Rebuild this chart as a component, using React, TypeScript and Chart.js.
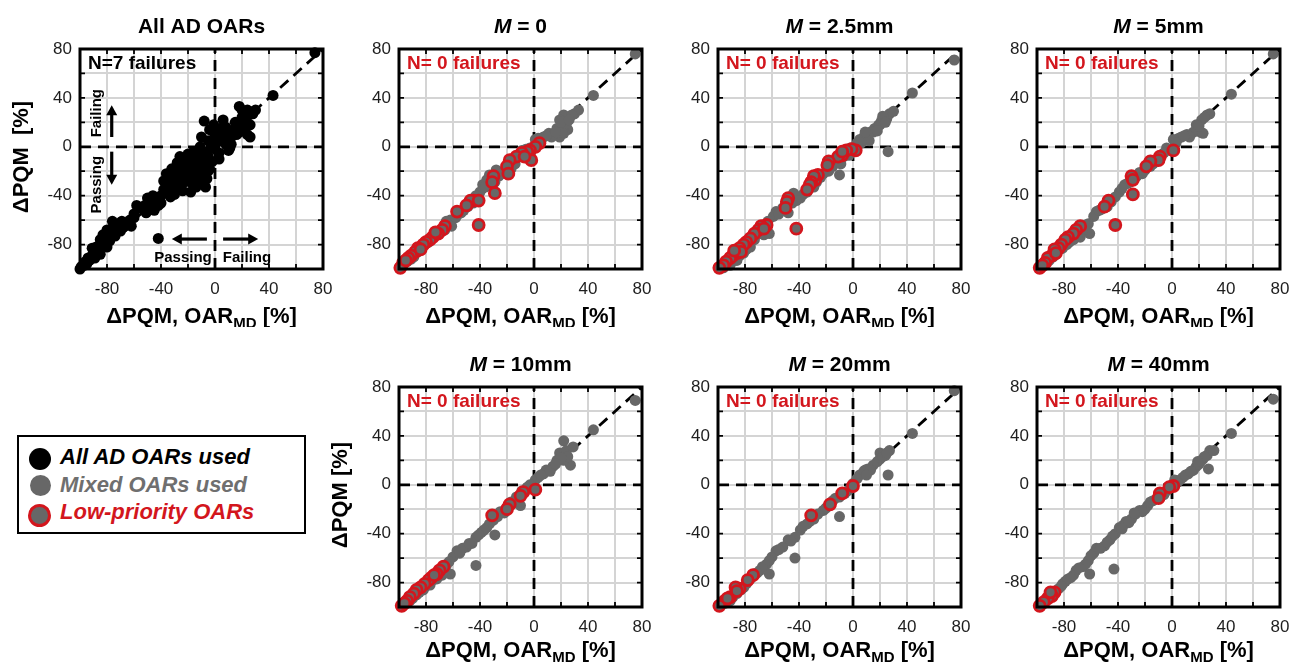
import React, { useEffect, useRef } from 'react';
import { Chart, registerables } from 'chart.js';

Chart.register(...registerables);

const FF = '"Liberation Sans", Arial, Helvetica, sans-serif';
Chart.defaults.font.family = FF;

type P = [number, number];

// ---------- data (x = ΔPQM OAR_MD, y = ΔPQM) ----------
const allAdPts: P[] = [
  [74, 77], [43, 42], [18, 33], [21, 29], [25, 26], [28, 27], [22, 22], [26, 18], [26, 8], [19, 16],
  [14, 14], [9, 11], [11, -1], [6, 5], [4, 15], [6, 22], [-1, 12], [-8, 21], [-10, 8], [-5, 5],
  [-2, 0], [-6, -4], [-11, 0], [-14, -8], [-16, -4], [-9, -11], [-18, -13], [-22, -16], [-26, -8], [-28, -13],
  [-32, -18], [-36, -22], [-31, -27], [-25, -23], [-21, -28], [-16, -24], [-11, -19], [-9, -24], [-7, -33], [-14, -33],
  [-18, -37], [-26, -33], [-33, -41], [-30, -39], [-38, -28], [-36, -33], [-43, -43], [-49, -45], [-47, -49], [-51, -54],
  [-42, -48], [-58, -48], [-42, -75], [-63, -60], [-67, -65], [-72, -64], [-75, -63], [-70, -69], [-74, -73], [-80, -68],
  [-83, -72], [-85, -76], [-88, -82], [-90, -87], [-91, -83], [-94, -91], [-96, -94], [-99, -98], [-85, -88], [-80, -82],
  [-30, -30], [-25, -18], [-20, -20], [-15, -15], [-10, -14], [-5, -8], [0, -2], [-3, 2], [2, 4], [-20, -6],
  [-34, -26], [-38, -35], [-12, -28], [-4, -18], [-6, -26], [-18, -29], [1, 10], [3, -5], [8, 2], [12, 8],
  [15, 20], [20, 24], [24, 30], [30, 30], [-24, -36], [-40, -40], [-45, -44], [-55, -50], [-60, -58], [-65, -62],
  [-68, -66], [-77, -70], [-82, -78], [-86, -84], [-88, -87], [-92, -90], [-95, -96], [-97, -97], [-100, -100], [-78, -77],
  [-70, -62], [-76, -61], [-69, -61], [-62, -65],
  [-35, -25], [-30, -20], [-28, -35], [-22, -10], [-18, -20], [-14, -25], [-10, -5], [-8, -15], [-5, -20], [-2, -12],
  [0, 5], [3, -10], [5, 12], [8, 16], [10, -3], [12, 2], [16, 10], [18, 12], [20, 15], [22, 14],
  [24, 10], [-45, -52], [-40, -46], [-52, -48], [-60, -55], [-73, -67], [-76, -70], [-79, -74], [-81, -80], [-84, -79],
  [-87, -86], [-93, -93], [-89, -91], [-46, -40], [-50, -42], [20, 30], [-4, 14], [-1, 18], [-24, -30], [-32, -34],
];

const m0Gray: P[] = [
  [75, 76], [44, 42], [22, 26], [19, 22], [23, 17], [25, 14], [30, 27], [33, 30], [22, 11], [19, 8],
  [14, 10], [11, 11], [7, 8], [3, 7], [1, 6], [21, 12], [24, 19], [28, 26], [17, 15], [-3, -1],
  [-9, -3], [-12, -8], [-14, -14], [-17, -18], [-28, -19], [-33, -23], [-35, -27], [-38, -31], [-29, -29], [-26, -24],
  [-45, -46], [-49, -49], [-52, -52], [-56, -55], [-62, -60], [-65, -61], [-66, -68], [-70, -71], [-75, -74], [-80, -79],
  [-84, -84], [-89, -90], [-94, -94], [-98, -98], [-61, -65], [-58, -58], [-40, -37], [-22, -20], [5, 3], [13, 8],
  [20, 20], [26, 22], [16, 12], [9, 9], [-6, -2], [-24, -22], [-31, -31], [-43, -40], [-54, -54], [-64, -64],
  [-72, -70], [-78, -78], [-86, -86], [-91, -92], [-36, -33], [-20, -17],
];
const m0Red: P[] = [
  [4, 3], [1, 0], [-3, -3], [-5, -4], [-9, -5], [-13, -8], [-2, -11], [-7, -8], [-18, -11], [-20, -16],
  [-19, -22], [-30, -24], [-31, -29], [-29, -38], [-45, -44], [-47, -44], [-50, -48], [-41, -44], [-57, -53], [-41, -64],
  [-66, -65], [-68, -68], [-71, -71], [-75, -74], [-77, -76], [-80, -78], [-82, -80], [-86, -83], [-88, -86], [-91, -89],
  [-93, -91], [-97, -95], [-99, -99], [-73, -70], [-84, -84], [-95, -93],
];

const m25Gray: P[] = [
  [75, 71], [44, 44], [27, 27], [25, 23], [21, 21], [19, 18], [16, 15], [13, 12], [10, 10], [8, 8],
  [5, 6], [3, 3], [26, -4], [20, 18], [30, 29], [-2, -1], [-5, -4], [-7, -8], [-10, -23], [-12, -11],
  [-15, -16], [-18, -20], [-27, -29], [-29, -33], [-34, -37], [-37, -39], [-39, -42], [-44, -38], [-48, -54], [-57, -53],
  [-59, -57], [-63, -61], [-62, -71], [-66, -72], [-69, -71], [-76, -82], [-81, -87], [-86, -93], [-91, -97], [-96, -99],
  [-99, -99], [-52, -50], [-45, -46], [-22, -22], [-3, -7], [12, 5], [15, 12], [22, 25],
  [24, 20], [18, 13], [9, 12], [6, 3], [-9, -14], [-24, -25], [-31, -31], [-42, -44], [-55, -55], [-65, -66],
  [-73, -76], [-79, -84], [-84, -89], [-88, -93],
];
const m25Red: P[] = [
  [2, -3], [-1, -2], [-5, -3], [-8, -7], [-11, -8], [-8, -4], [-18, -12], [-19, -15], [-26, -23], [-28, -27],
  [-29, -24], [-31, -29], [-32, -31], [-34, -35], [-48, -42], [-49, -45], [-50, -50], [-42, -67], [-64, -64], [-68, -65],
  [-70, -68], [-73, -71], [-76, -75], [-79, -78], [-81, -80], [-84, -83], [-86, -87], [-89, -89], [-91, -91], [-94, -94],
  [-96, -97], [-99, -99], [-66, -67], [-83, -86], [-88, -85],
];

const m5Gray: P[] = [
  [75, 76], [44, 43], [26, 26], [22, 22], [18, 18], [21, 12], [16, 12], [11, 10], [7, 8], [5, 7],
  [1, 6], [28, 27], [23, 11], [-4, -1], [-6, -5], [-9, -10], [-14, -14], [-16, -16], [-20, -19], [-26, -24],
  [-31, -29], [-35, -31], [-39, -37], [-42, -41], [-48, -49], [-56, -53], [-58, -57], [-62, -63], [-61, -71], [-66, -68],
  [-68, -74], [-73, -76], [-78, -80], [-83, -84], [-88, -90], [-93, -95], [-98, -99], [-45, -45], [-52, -51], [-22, -22],
  [13, 8], [3, 3], [-1, -3], [20, 17], [24, 24], [9, 9], [-12, -12], [-24, -21], [-28, -26], [-33, -30],
  [-37, -34], [-54, -52], [-64, -64], [-70, -72], [-76, -78], [-81, -83], [-86, -88], [-91, -93],
];
const m5Red: P[] = [
  [1, -3], [-9, -8], [-10, -11], [-16, -12], [-19, -16], [-30, -24], [-29, -27], [-29, -39], [-47, -44], [-50, -49],
  [-42, -64], [-68, -65], [-71, -68], [-73, -71], [-77, -74], [-79, -76], [-82, -80], [-84, -83], [-87, -84], [-89, -89],
  [-92, -91], [-94, -95], [-98, -99], [-86, -87], [-96, -97],
];

const m10Gray: P[] = [
  [75, 69], [44, 45], [22, 36], [27, 16], [19, 26], [24, 28], [29, 31], [17, 20], [14, 15], [9, 12],
  [7, 9], [3, 6], [1, 4], [12, 11], [22, 20], [-5, -2], [-9, -5], [-10, -17], [-13, -10], [-17, -14],
  [-20, -18], [-25, -22], [-30, -29], [-29, -41], [-35, -35], [-39, -39], [-43, -43], [-46, -48], [-50, -51], [-43, -66],
  [-57, -54], [-60, -59], [-63, -63], [-66, -66], [-62, -73], [-68, -74], [-72, -77], [-77, -82], [-82, -86], [-87, -90],
  [-92, -95], [-97, -99], [-53, -52], [-3, 0], [5, 8], [25, 23], [20, 22], [16, 17], [-7, -6], [-15, -15],
  [-22, -23], [-27, -26], [-33, -32], [-37, -37], [-41, -41], [-48, -48], [-55, -56], [-65, -66], [-70, -71], [-75, -78],
  [-80, -83], [-85, -88], [-90, -93],
];
const m10Red: P[] = [
  [1, -4], [-8, -6], [-10, -9], [-18, -16], [-20, -20], [-31, -25], [-67, -67], [-70, -70], [-72, -73], [-76, -76],
  [-78, -78], [-81, -81], [-84, -84], [-87, -86], [-89, -89], [-92, -92], [-94, -95], [-98, -99], [-96, -97], [-74, -74],
];

const m20Gray: P[] = [
  [75, 77], [44, 42], [27, 28], [24, 24], [20, 21], [18, 19], [26, 8], [11, 13], [8, 11], [5, 8],
  [3, 5], [15, 16], [9, 12], [20, 26], [-2, -3], [-6, -7], [-10, -10], [-10, -26], [-15, -13], [-22, -21],
  [-26, -24], [-29, -28], [-34, -32], [-39, -37], [-43, -43], [-48, -45], [-43, -60], [-52, -51], [-57, -54], [-60, -59],
  [-64, -65], [-62, -73], [-69, -70], [-73, -73], [-76, -77], [-81, -84], [-86, -89], [-91, -95], [-95, -97], [-99, -99],
  [-18, -17], [0, 1], [22, 23], [-67, -67], [25, 26], [13, 12], [10, 8], [-4, -5], [-13, -11], [-20, -19],
  [-32, -30], [-37, -34], [-46, -46], [-55, -53], [-62, -62], [-71, -72], [-79, -81], [-83, -86], [-89, -92],
];
const m20Red: P[] = [
  [0, -1], [-8, -7], [-17, -16], [-31, -25], [-74, -74], [-78, -78], [-84, -85], [-87, -84], [-91, -92], [-95, -95],
  [-99, -99], [-86, -87], [-93, -93],
];

const m40Gray: P[] = [
  [75, 70], [44, 42], [28, 28], [26, 24], [23, 21], [21, 19], [27, 13], [18, 15], [16, 12], [12, 9],
  [8, 6], [6, 4], [4, 2], [31, 28], [-4, -5], [-8, -9], [-11, -11], [-14, -13], [-18, -17], [-20, -20],
  [-24, -21], [-27, -24], [-30, -28], [-34, -30], [-39, -35], [-42, -40], [-46, -45], [-50, -50], [-56, -52], [-58, -56],
  [-62, -62], [-61, -73], [-66, -67], [-43, -69], [-71, -70], [-73, -74], [-77, -77], [-81, -81], [-84, -85], [-88, -89],
  [-92, -92], [-95, -96], [-98, -99], [0, 0], [-2, -2], [10, 8], [14, 11], [20, 17], [-53, -52], [-36, -33],
  [24, 23], [19, 19], [2, 4], [-6, -8], [-16, -14], [-22, -22], [-28, -23], [-32, -31], [-37, -36], [-44, -42],
  [-48, -47], [-60, -58], [-64, -65], [-69, -68], [-75, -76], [-79, -79], [-82, -83], [-86, -87], [-90, -90],
];
const m40Red: P[] = [
  [1, -1], [-2, -2], [-9, -7], [-10, -11], [-87, -88], [-89, -91], [-92, -93], [-95, -96], [-98, -99], [-90, -88],
];

const diagLine: P[] = [[-100, -100], [80, 80]];
const zeroVLine: P[] = [[0, -100], [0, 80]];
const zeroHLine: P[] = [[-100, 0], [80, 0]];

const AXIS_MIN = -100;
const AXIS_MAX = 80;
const GRID_STEP = 20;
const LABEL_STEP = 40;

const panelTitles = ['All AD OARs', 'M = 0', 'M = 2.5mm', 'M = 5mm', 'M = 10mm', 'M = 20mm', 'M = 40mm'];
const failureNotes = ['N=7 failures', 'N= 0 failures', 'N= 0 failures', 'N= 0 failures', 'N= 0 failures', 'N= 0 failures', 'N= 0 failures'];
const legendLabels = ['All AD OARs used', 'Mixed OARs used', 'Low-priority OARs'];
const X_TITLE_MAIN = 'ΔPQM, OAR';
const X_TITLE_SUB = 'MD';
const X_TITLE_TAIL = ' [%]';

// ---------- styles / layout ----------
const BLACK = '#000000';
const GRAY = '#676767';
const RED = '#d3161d';
const GRID = '#d4d4d4';

const PW = 243; // plot width
const PH = 220; // plot height
const ML = 80;
const MR = 26;
const MT = 48;
const MB = 58;
const CW = ML + PW + MR;
const CH = MT + PH + MB;
const R = 5.5;

const panels = [
  { left: 80, top: 49, main: allAdPts, mainColor: BLACK, red: [] as P[], noteColor: BLACK, yTitle: 'ΔPQM  [%]', annot: true, xtOff: 54 },
  { left: 399, top: 49, main: m0Gray, mainColor: GRAY, red: m0Red, noteColor: RED, yTitle: '', annot: false, xtOff: 54 },
  { left: 718, top: 49, main: m25Gray, mainColor: GRAY, red: m25Red, noteColor: RED, yTitle: '', annot: false, xtOff: 54 },
  { left: 1037, top: 49, main: m5Gray, mainColor: GRAY, red: m5Red, noteColor: RED, yTitle: '', annot: false, xtOff: 54 },
  { left: 399, top: 387, main: m10Gray, mainColor: GRAY, red: m10Red, noteColor: RED, yTitle: 'ΔPQM [%]', annot: false, xtOff: 50 },
  { left: 718, top: 387, main: m20Gray, mainColor: GRAY, red: m20Red, noteColor: RED, yTitle: '', annot: false, xtOff: 50 },
  { left: 1037, top: 387, main: m40Gray, mainColor: GRAY, red: m40Red, noteColor: RED, yTitle: '', annot: false, xtOff: 50 },
];

const toXY = (arr: P[]) => arr.map(([x, y]) => ({ x, y }));

function drawArrow(ctx: CanvasRenderingContext2D, x1: number, y1: number, x2: number, y2: number) {
  const ang = Math.atan2(y2 - y1, x2 - x1);
  const hl = 10;
  const hw = 5.5;
  const c = Math.cos(ang);
  const s = Math.sin(ang);
  const bx = x2 - hl * c;
  const by = y2 - hl * s;
  ctx.lineWidth = 3.2;
  ctx.beginPath();
  ctx.moveTo(x1, y1);
  ctx.lineTo(bx + c, by + s);
  ctx.stroke();
  ctx.beginPath();
  ctx.moveTo(x2, y2);
  ctx.lineTo(bx + hw * s, by - hw * c);
  ctx.lineTo(bx - hw * s, by + hw * c);
  ctx.closePath();
  ctx.fill();
}

function makeFramePlugin(idx: number) {
  const p = panels[idx];
  return {
    id: 'frame',
    afterDraw(chart: any) {
      const { ctx, chartArea: a } = chart;
      const xs = chart.scales.x;
      const ys = chart.scales.y;
      ctx.save();
      ctx.setLineDash([]);
      ctx.strokeStyle = BLACK;
      ctx.fillStyle = BLACK;
      // inner tick marks
      ctx.lineWidth = 1.8;
      ctx.beginPath();
      xs.ticks.forEach((t: any) => {
        const px = xs.getPixelForValue(t.value);
        ctx.moveTo(px, a.bottom);
        ctx.lineTo(px, a.bottom - 5);
        ctx.moveTo(px, a.top);
        ctx.lineTo(px, a.top + 5);
      });
      ys.ticks.forEach((t: any) => {
        const py = ys.getPixelForValue(t.value);
        ctx.moveTo(a.left, py);
        ctx.lineTo(a.left + 5, py);
        ctx.moveTo(a.right, py);
        ctx.lineTo(a.right - 5, py);
      });
      ctx.stroke();
      // box
      ctx.lineWidth = 3;
      ctx.strokeRect(a.left, a.top, a.right - a.left, a.bottom - a.top);

      const cx = (a.left + a.right) / 2;
      // title
      const title = panelTitles[idx];
      ctx.textBaseline = 'alphabetic';
      ctx.textAlign = 'left';
      const parts = title.startsWith('M ')
        ? [{ t: 'M', f: `italic bold 21px ${FF}` }, { t: title.slice(1), f: `bold 21px ${FF}` }]
        : [{ t: title, f: `bold 21px ${FF}` }];
      let tw = 0;
      parts.forEach((pt) => { ctx.font = pt.f; tw += ctx.measureText(pt.t).width; });
      let tx = cx - tw / 2;
      parts.forEach((pt) => { ctx.font = pt.f; ctx.fillText(pt.t, tx, a.top - 16); tx += ctx.measureText(pt.t).width; });

      // x axis title with subscript
      const fMain = `bold 22px ${FF}`;
      const fSub = `bold 15px ${FF}`;
      ctx.font = fMain;
      const w1 = ctx.measureText(X_TITLE_MAIN).width;
      const w3 = ctx.measureText(X_TITLE_TAIL).width;
      ctx.font = fSub;
      const w2 = ctx.measureText(X_TITLE_SUB).width;
      let xx = cx - (w1 + w2 + w3) / 2;
      const xb = a.bottom + p.xtOff;
      ctx.font = fMain;
      ctx.fillText(X_TITLE_MAIN, xx, xb);
      xx += w1;
      ctx.font = fSub;
      ctx.fillText(X_TITLE_SUB, xx, xb + 5);
      xx += w2;
      ctx.font = fMain;
      ctx.fillText(X_TITLE_TAIL, xx, xb);

      // y axis title
      if (p.yTitle) {
        ctx.save();
        ctx.translate(a.left - 58, (a.top + a.bottom) / 2 - 2);
        ctx.rotate(-Math.PI / 2);
        ctx.textAlign = 'center';
        ctx.textBaseline = 'middle';
        ctx.font = `bold 22px ${FF}`;
        ctx.fillText(p.yTitle, 0, 0);
        ctx.restore();
      }

      // failures note
      ctx.font = `bold 19px ${FF}`;
      ctx.fillStyle = p.noteColor;
      ctx.textAlign = 'left';
      ctx.fillText(failureNotes[idx], a.left + 8, a.top + 20);
      ctx.fillStyle = BLACK;

      // passing / failing annotations
      if (p.annot) {
        const X = (v: number) => xs.getPixelForValue(v);
        const Y = (v: number) => ys.getPixelForValue(v);
        ctx.font = `bold 15px ${FF}`;
        ctx.textAlign = 'center';
        ctx.textBaseline = 'middle';
        [['Failing', 27.5], ['Passing', -31]].forEach(([t, v]) => {
          ctx.save();
          ctx.translate(X(-87.5), Y(v as number));
          ctx.rotate(-Math.PI / 2);
          ctx.fillText(t as string, 0, 0);
          ctx.restore();
        });
        drawArrow(ctx, X(-76.5), Y(8), X(-76.5), Y(34));
        drawArrow(ctx, X(-76.5), Y(-4), X(-76.5), Y(-31));
        ctx.textBaseline = 'alphabetic';
        ctx.fillText('Passing', X(-23.7), Y(-94.3));
        ctx.fillText('Failing', X(23.7), Y(-94.3));
        drawArrow(ctx, X(-6), Y(-75.5), X(-32), Y(-75.5));
        drawArrow(ctx, X(6), Y(-75.5), X(32), Y(-75.5));
      }
      ctx.restore();
    },
  };
}

function axisOpts(isX: boolean) {
  return {
    type: 'linear',
    min: AXIS_MIN,
    max: AXIS_MAX,
    afterFit: (s: any) => {
      if (isX) s.height = MB;
      else s.width = ML;
    },
    grid: { color: GRID, lineWidth: 2, drawTicks: false },
    border: { display: false },
    ticks: {
      stepSize: GRID_STEP,
      autoSkip: false,
      maxRotation: 0,
      minRotation: 0,
      padding: isX ? 10 : 8,
      color: '#1e1e1e',
      font: { size: 17, family: FF },
      callback: (v: any) => (Number(v) % LABEL_STEP === 0 ? String(v) : ''),
    },
  };
}

function Panel({ idx }: { idx: number }) {
  const ref = useRef<HTMLCanvasElement>(null);
  const p = panels[idx];
  useEffect(() => {
    const lineDs = (pts: P[]) => ({
      data: toXY(pts),
      showLine: true,
      pointRadius: 0,
      borderColor: BLACK,
      borderWidth: 2.8,
      borderDash: [11, 7],
      fill: false,
    });
    const datasets: any[] = [];
    if (p.red.length) {
      datasets.push({
        data: toXY(p.red),
        pointRadius: R,
        pointBackgroundColor: GRAY,
        pointBorderColor: RED,
        pointBorderWidth: 2.8,
        showLine: false,
        clip: false,
      });
    }
    datasets.push({
      data: toXY(p.main),
      pointRadius: R,
      pointBackgroundColor: p.mainColor,
      pointBorderColor: p.mainColor,
      pointBorderWidth: 0,
      showLine: false,
      clip: false,
    });
    datasets.push(lineDs(diagLine), lineDs(zeroVLine), lineDs(zeroHLine));

    const chart = new Chart(ref.current as HTMLCanvasElement, {
      type: 'scatter',
      data: { datasets },
      options: {
        responsive: false,
        animation: false,
        devicePixelRatio: 1,
        events: [],
        layout: { padding: { top: MT, right: MR, left: 0, bottom: 0 } },
        plugins: { legend: { display: false }, tooltip: { enabled: false }, title: { display: false } },
        scales: { x: axisOpts(true), y: axisOpts(false) } as any,
      },
      plugins: [makeFramePlugin(idx)],
    } as any);
    return () => chart.destroy();
  }, []);
  return (
    <canvas
      ref={ref}
      width={CW}
      height={CH}
      style={{ position: 'absolute', left: p.left - ML, top: p.top - MT, width: CW, height: CH }}
    />
  );
}

function Legend() {
  const items = [
    { cy: 24, cx: 23, d: 22, fill: BLACK, border: 'none', color: BLACK },
    { cy: 50, cx: 23, d: 21, fill: GRAY, border: 'none', color: '#6f6f6f' },
    { cy: 80, cx: 22, d: 23, fill: GRAY, border: `3px solid ${RED}`, color: RED },
  ];
  const baselines = [30, 58, 85];
  return (
    <div
      style={{
        position: 'absolute', left: 17, top: 435, width: 289, height: 99,
        border: '2px solid #000', boxSizing: 'border-box', background: '#fff',
      }}
    >
      {items.map((it, i) => (
        <React.Fragment key={i}>
          <div
            style={{
              position: 'absolute', left: it.cx - 2 - it.d / 2, top: it.cy - 2 - it.d / 2,
              width: it.d, height: it.d, borderRadius: '50%', background: it.fill,
              border: it.border, boxSizing: 'border-box',
            }}
          />
          <div
            style={{
              position: 'absolute', left: 41, top: baselines[i] - 2 - 19,
              font: `italic bold 22px ${FF}`, lineHeight: '22px', color: it.color, whiteSpace: 'nowrap',
            }}
          >
            {legendLabels[i]}
          </div>
        </React.Fragment>
      ))}
    </div>
  );
}

export default function App() {
  return (
    <div style={{ position: 'absolute', left: 0, top: 0, width: 1294, height: 666, overflow: 'hidden', background: '#fff' }}>
      {panels.map((_, i) => (
        <Panel key={i} idx={i} />
      ))}
      <Legend />
    </div>
  );
}
